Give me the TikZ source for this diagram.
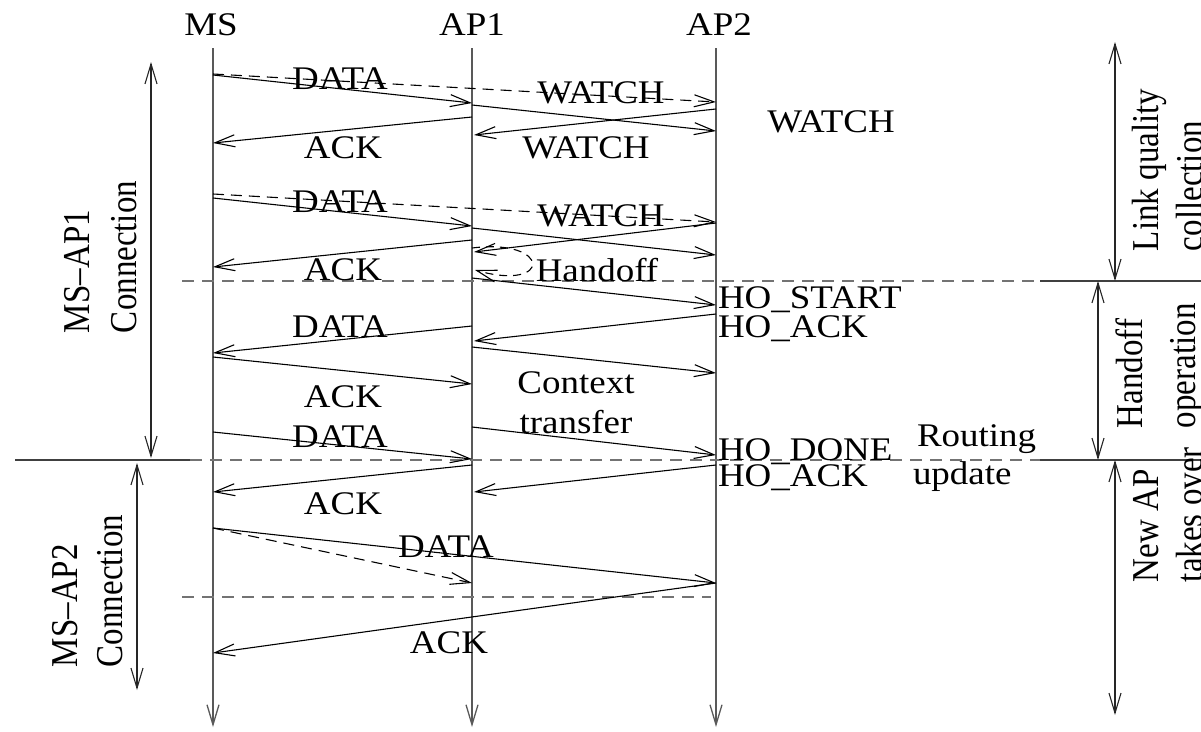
\documentclass[tikz,border=0pt]{standalone}
\usepackage{fontspec}
\setmainfont{Liberation Serif}
\usetikzlibrary{arrows.meta,calc}
\begin{document}
\begin{tikzpicture}[x=1pt,y=-1pt,
  every node/.style={font=\fontsize{33}{38}\selectfont, inner sep=0pt, outer sep=0pt},
  msg/.style={line width=1.1pt, draw=black, -{Straight Barb[length=20pt,width=12pt,line width=1.1pt]}},
  dmsg/.style={msg, dash pattern=on 11pt off 7pt},
  life/.style={line width=1.3pt, draw=black!65, -{Straight Barb[length=20pt,width=12pt,line width=1.3pt]}},
  sepdash/.style={line width=1.2pt, draw=black!55, dash pattern=on 12pt off 8pt},
  sepsolid/.style={line width=1.2pt, draw=black!75},
  span/.style={line width=1.1pt, draw=black!85, {Straight Barb[length=20pt,width=12pt,line width=1.1pt]}-{Straight Barb[length=20pt,width=12pt,line width=1.1pt]}},
  lbl/.style={anchor=base, xscale=1.12},
  wlbl/.style={anchor=base west, xscale=1.12},
  vlbl/.style={rotate=90, yscale=1.15, anchor=base west}]
\useasboundingbox (0,0) rectangle (1201,731);

% lifelines
\coordinate (ms) at (213,0);
\coordinate (ap1) at (472,0);
\coordinate (ap2) at (716,0);
\node[lbl] (hms) at (211,35) {MS};
\node[lbl] (hap1) at (472,35) {AP1};
\node[lbl] (hap2) at (719,35) {AP2};
\coordinate (msb) at (213,727);
\coordinate (ap1b) at (472,727);
\coordinate (ap2b) at (716,727);
\draw[life] ($(ms)+(0,48)$) -- (msb);
\draw[life] ($(ap1)+(0,48)$) -- (ap1b);
\draw[life] ($(ap2)+(0,48)$) -- (ap2b);

% separators
\draw[sepdash] (182,281) -- (1040,281);
\draw[sepsolid] (1040,281) -- (1201,281);
\draw[sepsolid] (15,460) -- (190,460);
\draw[sepdash] (190,460) -- (1040,460);
\draw[sepsolid] (1040,460) -- (1201,460);
\draw[sepdash] (182,597) -- (711,597);

% round 1
\draw[msg] ($(ms)+(0,75)$) -- ($(ap1)+(0,103)$);
\draw[dmsg] ($(ms)+(0,74)$) -- ($(ap2)+(0,102)$);
\draw[msg] ($(ap1)+(0,105)$) -- ($(ap2)+(0,131)$);
\draw[msg] ($(ap2)+(0,109)$) -- ($(ap1)+(2,135)$);
\draw[msg] ($(ap1)+(0,117)$) -- ($(ms)+(0,143)$);
\node[lbl] (t1) at (340,89) {DATA};
\node[lbl] (t2) at (601,103) {WATCH};
\node[lbl] (t3) at (343,158) {ACK};
\node[lbl] (t4) at (586,158) {WATCH};
\node[lbl] (t5) at (831,132) {WATCH};

% round 2
\draw[dmsg] ($(ms)+(0,194)$) -- ($(ap2)+(0,222)$);
\draw[msg] ($(ms)+(0,198)$) -- ($(ap1)+(0,226)$);
\draw[msg] ($(ap1)+(0,228)$) -- ($(ap2)+(0,255)$);
\draw[msg] ($(ap2)+(0,223)$) -- ($(ap1)+(2,252)$);
\draw[msg] ($(ap1)+(0,240)$) -- ($(ms)+(0,267)$);
\node[lbl] (t6) at (340,212) {DATA};
\node[lbl] (t7) at (601,226) {WATCH};
\node[lbl] (t8) at (343,280) {ACK};

% handoff decision
\draw[dmsg, dash pattern=on 8pt off 6pt] ($(ap1)+(0,248)$) .. controls ($(ap1)+(80,238)$) and ($(ap1)+(80,292)$) .. ($(ap1)+(3,270)$);
\node[lbl] (t9) at (597,281) {Handoff};

% handoff operation
\draw[msg] ($(ap1)+(0,278)$) -- ($(ap2)+(0,305)$);
\draw[msg] ($(ap2)+(0,314)$) -- ($(ap1)+(2,341)$);
\draw[msg] ($(ap1)+(0,326)$) -- ($(ms)+(0,353)$);
\draw[msg] ($(ms)+(0,357)$) -- ($(ap1)+(0,384)$);
\draw[msg] ($(ap1)+(0,347)$) -- ($(ap2)+(0,373)$);
\node[wlbl] (t10) at (718,308) {HO\_START};
\node[wlbl] (t11) at (718,337) {HO\_ACK};
\node[lbl] (t12) at (340,337) {DATA};
\node[lbl] (t13) at (343,407) {ACK};
\node[lbl] (t14) at (576,393) {Context};
\node[lbl] (t15) at (576,433) {transfer};

\draw[msg] ($(ms)+(0,432)$) -- ($(ap1)+(0,459)$);
\draw[msg] ($(ap1)+(0,427)$) -- ($(ap2)+(0,455)$);
\draw[msg] ($(ap1)+(0,465)$) -- ($(ms)+(0,492)$);
\draw[msg] ($(ap2)+(0,465)$) -- ($(ap1)+(2,492)$);
\node[lbl] (t16) at (340,447) {DATA};
\node[wlbl] (t17) at (718,460) {HO\_DONE};
\node[wlbl] (t18) at (718,486) {HO\_ACK};
\node[wlbl] (t19) at (917,446) {Routing};
\node[wlbl] (t20) at (913,484) {update};
\node[lbl] (t21) at (343,514) {ACK};

% new AP
\draw[msg] ($(ms)+(0,528)$) -- ($(ap2)+(0,583)$);
\draw[dmsg] ($(ms)+(0,528)$) -- ($(ap1)+(0,583)$);
\draw[msg] ($(ap2)+(0,583)$) -- ($(ms)+(0,653)$);
\node[lbl] (t22) at (446,557) {DATA};
\node[lbl] (t23) at (449,653) {ACK};

% left spans
\coordinate (l1a) at (151,62);
\coordinate (l1b) at (151,458);
\coordinate (l2a) at (137,463);
\coordinate (l2b) at (137,690);
\draw[span] (l1a) -- (l1b);
\draw[span] (l2a) -- (l2b);
\node[vlbl] (v1) at (89,333) {MS–AP1};
\node[vlbl] (v2) at (136,333) {Connection};
\node[vlbl] (v3) at (77,667) {MS–AP2};
\node[vlbl] (v4) at (122,667) {Connection};

% right spans
\coordinate (r1a) at (1115,42);
\coordinate (r1b) at (1115,281);
\coordinate (r2a) at (1098,281);
\coordinate (r2b) at (1098,460);
\coordinate (r3a) at (1115,460);
\coordinate (r3b) at (1115,715);
\draw[span] (r1a) -- (r1b);
\draw[span] (r2a) -- (r2b);
\draw[span] (r3a) -- (r3b);
\node[vlbl] (v5) at (1158,251) {Link quality};
\node[vlbl] (v6) at (1202,251) {collection};
\node[vlbl] (v7) at (1142,428) {Handoff};
\node[vlbl] (v8) at (1195,428) {operation};
\node[vlbl] (v9) at (1158,582) {New AP};
\node[vlbl] (v10) at (1202,582) {takes over};
\end{tikzpicture}
\end{document}
